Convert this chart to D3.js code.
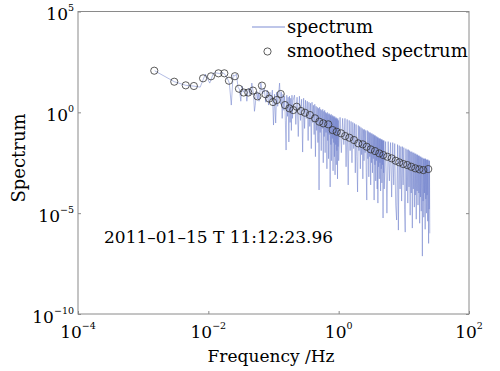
<!DOCTYPE html>
<html>
<head>
<meta charset="utf-8">
<script src="https://cdn.jsdelivr.net/npm/d3@7"></script>
<style>
  html, body { margin: 0; padding: 0; background: #fff; }
  svg { display: block; font-family: "DejaVu Serif", serif; }
</style>
</head>
<body>
<div id="chart"></div>
<script>
// raw spectrum, frequency in Hz and log10 of power
const specFreq = [
  0.0015, 0.003, 0.0045, 0.006, 0.0075, 0.009, 0.0105, 0.012, 0.0135,
  0.015, 0.0165, 0.018, 0.0195, 0.021, 0.0225, 0.024, 0.0255, 0.027, 0.0285,
  0.030, 0.0315, 0.033, 0.0345, 0.036, 0.0375, 0.039, 0.0405, 0.042, 0.0435,
  0.045, 0.0465, 0.048, 0.0495, 0.051, 0.0525, 0.054, 0.0555, 0.057, 0.0585, 0.060,
  0.064, 0.068, 0.072, 0.076, 0.080, 0.084, 0.088, 0.092, 0.096, 0.100,
  0.104, 0.108, 0.112, 0.116, 0.120, 0.124, 0.128, 0.132, 0.136, 0.140,
  0.144, 0.148, 0.152, 0.156, 0.160, 0.164, 0.168, 0.172, 0.176, 0.180,
  0.184, 0.188, 0.192, 0.196, 0.200,
  0.21, 0.22, 0.23, 0.24, 0.25, 0.26, 0.27, 0.28, 0.29, 0.30,
  0.31, 0.32, 0.33, 0.34, 0.35, 0.36, 0.37, 0.38, 0.39, 0.40,
  0.41, 0.42, 0.43, 0.44, 0.45, 0.46, 0.47, 0.48, 0.49, 0.50,
  0.51, 0.52, 0.53, 0.54, 0.55, 0.56, 0.57, 0.58, 0.59, 0.60,
  0.61, 0.62, 0.63, 0.64, 0.65, 0.66, 0.67, 0.68, 0.69, 0.70,
  0.71, 0.72, 0.73, 0.74, 0.75, 0.76, 0.77, 0.78, 0.79, 0.80,
  0.81, 0.82, 0.83, 0.84, 0.85, 0.86, 0.87, 0.88, 0.89, 0.90,
  0.91, 0.92, 0.93, 0.94, 0.95, 0.96, 0.97, 0.98, 0.99, 1.00,
  1.05, 1.10, 1.15, 1.20, 1.25, 1.30, 1.35, 1.40, 1.45, 1.50,
  1.55, 1.60, 1.65, 1.70, 1.75, 1.80, 1.85, 1.90, 1.95, 2.00,
  2.05, 2.10, 2.15, 2.20, 2.25, 2.30, 2.35, 2.40, 2.45, 2.50,
  2.55, 2.60, 2.65, 2.70, 2.75, 2.80, 2.85, 2.90, 2.95, 3.00,
  3.05, 3.10, 3.15, 3.20, 3.25, 3.30, 3.35, 3.40, 3.45, 3.50,
  3.55, 3.60, 3.65, 3.70, 3.75, 3.80, 3.85, 3.90, 3.95, 4.00,
  4.05, 4.10, 4.15, 4.20, 4.25, 4.30, 4.35, 4.40, 4.45, 4.50,
  4.55, 4.60, 4.65, 4.70, 4.75, 4.80, 4.85, 4.90, 4.95, 5.00,
  5.25, 5.50, 5.75, 6.00, 6.25, 6.50, 6.75, 7.00, 7.25, 7.50,
  7.75, 8.00, 8.25, 8.50, 8.75, 9.00, 9.25, 9.50, 9.75, 10.00,
  10.25, 10.50, 10.75, 11.00, 11.25, 11.50, 11.75, 12.00, 12.25, 12.50,
  12.75, 13.00, 13.25, 13.50, 13.75, 14.00, 14.25, 14.50, 14.75, 15.00,
  15.25, 15.50, 15.75, 16.00, 16.25, 16.50, 16.75, 17.00, 17.25, 17.50,
  17.75, 18.00, 18.25, 18.50, 18.75, 19.00, 19.25, 19.50, 19.75, 20.00,
  20.25, 20.50, 20.75, 21.00, 21.25, 21.50, 21.75, 22.00, 22.25, 22.50,
  22.75, 23.00, 23.25, 23.50, 23.75, 24.00, 24.25, 24.50, 24.75, 25.00
];
const specLog10 = [
  2.06, 1.52, 1.34, 1.30, 1.25, 1.90, 1.45, 1.95, 1.95,
  1.92, 1.97, 1.88, 1.70, 1.45, 0.36, 1.85, 1.80, 1.90, 1.25,
  1.15, 0.55, 1.30, 1.00, 1.10, 1.15, 0.55, 1.05, 1.20, 0.85,
  1.05, 1.45, 1.15, 0.85, 0.05, 0.35, 0.85, 1.05, 0.65, 0.95, 0.55,
  1.45, 0.90, 1.20, 0.50, 1.10, 0.36, 1.00, 0.60, 1.10, -0.63,
  0.90, -0.53, 1.00, 0.30, 0.95, 1.45, 0.40, 1.00, -0.30, 0.90,
  0.10, 0.80, -0.40, -1.87, 0.85, -0.20, 0.75, -1.47, 0.80, -0.50,
  0.70, -0.90, 0.85, -0.30, 0.60,
  0.85, -0.60, 0.75, -1.20, 0.80, -0.40, 0.65, -1.97, 0.70, -0.80,
  0.60, -0.30, 0.55, -1.40, 0.50, -0.70, 0.45, -1.80, 0.50, -0.50,
  0.35, -1.10, 0.40, -2.20, 0.30, -0.90, 0.25, -1.50, 0.20, -3.85,
  0.25, -1.00, 0.15, -1.90, 0.10, -0.80, 0.15, -2.50, 0.05, -1.20,
  0.10, -2.00, 0.00, -1.00, -0.05, -2.80, 0.00, -1.40, -0.10, -2.30,
  -0.05, -1.10, -0.10, -3.70, -0.15, -1.60, -0.10, -2.40, -0.20, -1.30,
  -0.15, -2.90, -0.20, -1.50, -0.25, -2.20, -0.20, -3.10, -0.30, -1.60,
  -0.25, -2.60, -0.30, -1.90, -0.35, -3.30, -0.30, -1.70, -0.40, -2.40,
  -0.25, -2.00, -0.30, -1.60, -0.30, -2.70, -0.35, -3.60, -0.40, -1.90,
  -0.45, -2.50, -0.50, -1.80, -0.55, -3.00, -0.60, -2.20, -3.95, -0.65,
  -1.90, -0.70, -2.80, -0.75, -2.10, -0.80, -3.30, -0.85, -2.40, -0.85,
  -2.00, -0.90, -3.00, -4.35, -0.90, -2.30, -0.95, -3.20, -1.00, -2.20,
  -1.00, -3.60, -1.05, -2.50, -1.05, -3.00, -1.10, -2.30, -1.10, -4.35,
  -1.15, -2.60, -1.15, -3.40, -1.20, -2.40, -1.20, -3.80, -1.25, -4.50,
  -1.25, -2.70, -1.30, -3.30, -1.30, -2.50, -1.30, -3.90, -1.35, -2.80,
  -1.35, -3.50, -1.35, -2.60, -1.40, -5.24, -1.40, -3.00, -1.40, -3.80,
  -1.45, -5.00, -1.45, -3.40, -1.50, -4.20, -1.50, -3.60, -1.55, -4.60,
  -5.34, -1.60, -5.84, -1.65, -3.80, -1.70, -4.40, -1.70, -3.60, -1.75,
  -4.80, -5.94, -1.80, -3.90, -1.85, -4.50, -1.85, -3.70, -1.90, -5.10,
  -1.95, -4.00, -1.95, -5.74, -2.00, -3.80, -2.00, -4.70, -2.05, -4.10,
  -2.05, -5.30, -2.10, -3.90, -2.10, -4.60, -2.15, -4.00, -2.15, -5.50,
  -2.20, -4.20, -2.20, -4.90, -2.25, -3.90, -7.13, -2.25, -4.40, -2.30,
  -5.20, -2.30, -4.00, -2.30, -5.80, -2.30, -4.30, -2.35, -5.00, -2.35,
  -4.10, -2.35, -5.40, -2.35, -4.60, -6.50, -2.40, -4.80, -2.40, -6.00
];

// smoothed spectrum (circles)
const smoothFreq = [
  0.00148, 0.0030, 0.0045, 0.0060, 0.0083, 0.0110, 0.0143, 0.0176, 0.0207, 0.0256,
  0.0295, 0.0349, 0.0410, 0.0484, 0.0567, 0.0665, 0.0753, 0.0859, 0.0982, 0.112,
  0.129, 0.150, 0.175, 0.201, 0.227, 0.264, 0.304, 0.363, 0.434, 0.505,
  0.581, 0.693, 0.809, 0.933, 1.09, 1.26, 1.46, 1.72, 2.00, 2.34,
  2.69, 3.10, 3.61, 4.20, 4.84, 5.57, 6.51, 7.50, 8.51, 9.8,
  11.3, 13.0, 15.0, 17.3, 19.9, 23.7
];
const smoothPow = [
  116, 33, 21.8, 20.2, 48.6, 61, 86, 86, 36.9, 61.8,
  14.8, 9.6, 9.6, 12.0, 6.2, 21.1, 7.9, 4.8, 3.24, 4.07,
  8.1, 2.30, 1.58, 1.30, 1.90, 1.16, 0.955, 0.735, 0.504, 0.342,
  0.284, 0.254, 0.132, 0.109, 0.0908, 0.0667, 0.0550, 0.0423, 0.0290, 0.0259,
  0.0197, 0.0146, 0.0120, 0.00925, 0.00762, 0.00628, 0.00522, 0.00397, 0.00331, 0.00273,
  0.00243, 0.00200, 0.00167, 0.00149, 0.00137, 0.00154
];

const xTickExp = [-4, -2, 0, 2];
const yTickExp = [-10, -5, 0, 5];
const legendLabels = ['spectrum', 'smoothed spectrum'];
const stampText = '2011\u201301\u201315 T 11:12:23.96';

const width = 500, height = 371;
const margin = {left: 78, right: 31, top: 11.5, bottom: 57};
const lineColor = '#6f7fcb';
const axisColor = '#8a8a8a';

const svg = d3.select('#chart')
  .append('svg')
  .attr('width', width)
  .attr('height', height);

const xScale = d3.scaleLog().domain([1e-4, 1e2]).range([margin.left, width - margin.right]);
const yScale = d3.scaleLog().domain([1e-10, 1e5]).range([height - margin.bottom, margin.top]);

const spec = specFreq.map((f, i) => [f, Math.pow(10, specLog10[i])]);
const smooth = smoothFreq.map((f, i) => [f, smoothPow[i]]);

// axes, ticks pointing inward
function tickAxis(axis, transform) {
  const g = svg.append('g').attr('transform', transform).call(axis);
  g.select('.domain').remove();
  g.selectAll('line').attr('stroke', axisColor);
  g.selectAll('text').remove();
}
const xTicks = xTickExp.map(e => Math.pow(10, e));
const yTicks = yTickExp.map(e => Math.pow(10, e));
tickAxis(d3.axisBottom(xScale).tickValues(xTicks).tickSize(-3), `translate(0,${height - margin.bottom})`);
tickAxis(d3.axisLeft(yScale).tickValues(yTicks).tickSize(-3), `translate(${margin.left},0)`);
tickAxis(d3.axisRight(yScale).tickValues(yTicks).tickSize(-3), `translate(${width - margin.right},0)`);

svg.append('rect')
  .attr('x', margin.left)
  .attr('y', margin.top)
  .attr('width', width - margin.left - margin.right)
  .attr('height', height - margin.top - margin.bottom)
  .attr('fill', 'none')
  .attr('stroke', axisColor)
  .attr('stroke-width', 1);

function powLabel(sel, e) {
  sel.append('tspan').text('10');
  sel.append('tspan')
    .attr('dy', -9)
    .attr('font-size', 9.5)
    .text(e < 0 ? '\u2212' + (-e) : String(e));
}

svg.append('g').selectAll('text')
  .data(xTickExp)
  .enter()
  .append('text')
  .attr('x', e => xScale(Math.pow(10, e)))
  .attr('y', 338)
  .attr('text-anchor', 'middle')
  .attr('font-size', 17)
  .attr('fill', '#000')
  .each(function(e) { powLabel(d3.select(this), e); });

svg.append('g').selectAll('text')
  .data(yTickExp)
  .enter()
  .append('text')
  .attr('x', margin.left - 4)
  .attr('y', e => yScale(Math.pow(10, e)) + 8.5)
  .attr('text-anchor', 'end')
  .attr('font-size', 17)
  .attr('fill', '#000')
  .each(function(e) { powLabel(d3.select(this), e); });

// data
const line = d3.line().x(d => xScale(d[0])).y(d => yScale(d[1]));

svg.append('path')
  .datum(spec)
  .attr('d', line)
  .attr('fill', 'none')
  .attr('stroke', lineColor)
  .attr('stroke-opacity', 0.7)
  .attr('stroke-width', 0.75);

svg.append('g').selectAll('circle')
  .data(smooth)
  .enter()
  .append('circle')
  .attr('cx', d => xScale(d[0]))
  .attr('cy', d => yScale(d[1]))
  .attr('r', 3.6)
  .attr('fill', 'none')
  .attr('stroke', '#333')
  .attr('stroke-width', 0.8);

// legend
svg.append('line')
  .attr('x1', 252).attr('x2', 285)
  .attr('y1', 27).attr('y2', 27)
  .attr('stroke', '#a9b3e2')
  .attr('stroke-width', 1.5);
svg.append('circle')
  .attr('cx', 267.5).attr('cy', 51.5).attr('r', 3.6)
  .attr('fill', 'none').attr('stroke', '#333').attr('stroke-width', 0.8);
svg.append('g').selectAll('text')
  .data(legendLabels)
  .enter()
  .append('text')
  .attr('x', 287)
  .attr('y', (d, i) => 33 + i * 24)
  .attr('font-size', 18)
  .attr('fill', '#000')
  .text(d => d);

// labels
svg.append('text')
  .attr('x', 104)
  .attr('y', 243)
  .attr('font-size', 17)
  .attr('fill', '#000')
  .text(stampText);

svg.append('text')
  .attr('x', 271)
  .attr('y', 362)
  .attr('text-anchor', 'middle')
  .attr('font-size', 17)
  .attr('fill', '#000')
  .text('Frequency /Hz');

svg.append('text')
  .attr('transform', 'translate(25,158) rotate(-90)')
  .attr('text-anchor', 'middle')
  .attr('font-size', 18)
  .attr('fill', '#000')
  .text('Spectrum');
</script>
</body>
</html>
